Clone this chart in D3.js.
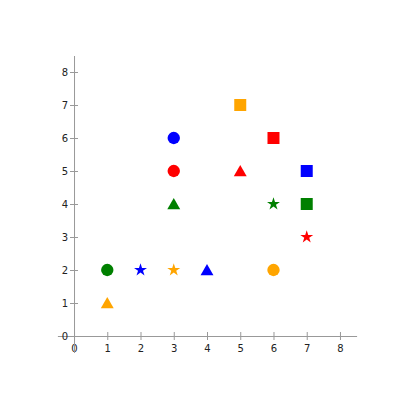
<!DOCTYPE html>
<html><head><meta charset="utf-8">
<script src="https://cdn.jsdelivr.net/npm/d3@7"></script>
<style>body{margin:0;background:#fff}svg{display:block}text{font-family:"DejaVu Sans",sans-serif}</style>
</head><body>
<script>
const xValues = [3, 3, 3, 5, 6, 5, 7, 6, 7, 7, 1, 2, 3, 4, 6, 1];
const yValues = [6, 5, 4, 7, 6, 5, 5, 4, 4, 3, 2, 2, 2, 2, 2, 1];
const colors  = ["blue","red","green","orange","red","red","blue","green","green","red","green","blue","orange","blue","orange","orange"];
const shapes  = ["circle","circle","triangle","square","square","triangle","square","star","square","star","circle","star","star","triangle","circle","triangle"];
const ticks = [0,1,2,3,4,5,6,7,8];

const W = 404, H = 405;
const svg = d3.select("body").append("svg").attr("width", W).attr("height", H);
const x = d3.scaleLinear().domain([-0.5, 8.5]).range([57.4, 356.6]);
const y = d3.scaleLinear().domain([-0.5, 8.5]).range([352.5, 55.5]);
const axisColor = "#999";

const xa = svg.append("g").attr("transform", `translate(0,${y(0)})`)
  .call(d3.axisBottom(x).tickValues(ticks).tickSize(4).tickSizeOuter(0).tickPadding(2));
const ya = svg.append("g").attr("transform", `translate(${x(0)},0)`)
  .call(d3.axisLeft(y).tickValues(ticks).tickSize(4).tickSizeOuter(0).tickPadding(2));
[xa, ya].forEach(g => {
  g.select(".domain").attr("stroke", axisColor).attr("stroke-width", 1);
  g.selectAll(".tick line").attr("stroke", axisColor);
  g.selectAll(".tick text").attr("fill", "#222").attr("font-size", 10);
});
xa.selectAll(".tick line").attr("y1", -4).attr("y2", 4);
ya.selectAll(".tick line").attr("x1", -4).attr("x2", 4);
xa.selectAll(".tick text").attr("dy", "1.0em");

const symMap = {circle: d3.symbolCircle, square: d3.symbolSquare, triangle: d3.symbolTriangle, star: d3.symbolStar};
const sizeMap = {circle: 120, square: 144, triangle: 72, star: 52};
svg.append("g").selectAll("path").data(xValues.map((v,i)=>i)).join("path")
  .attr("transform", i => `translate(${x(xValues[i])},${y(yValues[i]) + (shapes[i]==="triangle"?1.5:0)})`)
  .attr("d", i => d3.symbol(symMap[shapes[i]], sizeMap[shapes[i]])())
  .attr("fill", i => colors[i]);
</script>
</body></html>
